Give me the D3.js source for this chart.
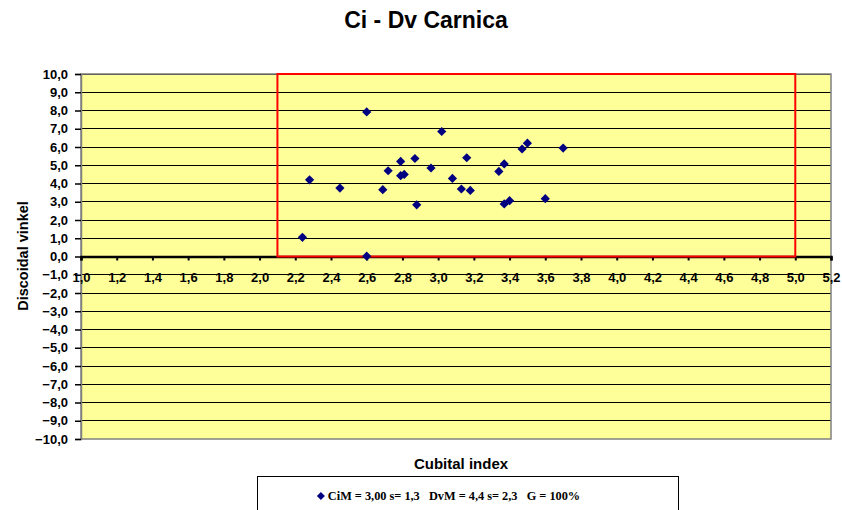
<!DOCTYPE html>
<html><head><meta charset="utf-8">
<script src="https://cdn.jsdelivr.net/npm/d3@7"></script>
<style>body{margin:0;background:#fff}svg{display:block}</style>
</head><body>
<svg id="c" width="842" height="510"></svg>
<script>
const title = "Ci - Dv Carnica";
const xTitle = "Cubital index";
const yTitle = "Discoidal vinkel";
const legendText = "CiM = 3,00 s= 1,3   DvM = 4,4 s= 2,3   G = 100%";
const cubitalIndex = [2.24, 2.28, 2.45, 2.60, 2.60, 2.69, 2.72, 2.79, 2.79, 2.81, 2.87, 2.88, 2.96, 3.02, 3.08, 3.13, 3.16, 3.18, 3.34, 3.37, 3.37, 3.40, 3.47, 3.50, 3.60, 3.70];
const discoidal    = [1.05, 4.20, 3.75, 7.92, 0.02, 3.66, 4.70, 5.21, 4.43, 4.50, 5.37, 2.83, 4.85, 6.85, 4.28, 3.70, 5.41, 3.62, 4.66, 5.07, 2.88, 3.06, 5.89, 6.21, 3.17, 5.94];
const xTicks = [1.0,1.2,1.4,1.6,1.8,2.0,2.2,2.4,2.6,2.8,3.0,3.2,3.4,3.6,3.8,4.0,4.2,4.4,4.6,4.8,5.0,5.2];
const yTicks = [-10,-9,-8,-7,-6,-5,-4,-3,-2,-1,0,1,2,3,4,5,6,7,8,9,10];
const zoneX = [2.1, 5.0];
const zoneY = [0, 10];

const svg = d3.select("#c");
const L = 81, R = 831, T = 74, B = 439;
const x = d3.scaleLinear().domain([1.0, 5.2]).range([L, R]);
const y = d3.scaleLinear().domain([-10, 10]).range([B, T]);
const fmt = v => d3.format(".1f")(v).replace(".", ",");
const SANS = "Liberation Sans, Arial, sans-serif";

// plot area
svg.append("rect").attr("x", L).attr("y", T).attr("width", R - L).attr("height", B - T)
  .attr("fill", "#FFFF99");

// gridlines
svg.append("g").selectAll("line").data(yTicks.filter(v => v !== -10)).join("line")
  .attr("x1", L).attr("x2", R).attr("y1", d => y(d)).attr("y2", d => y(d))
  .attr("stroke", "#000").attr("stroke-width", 1).attr("shape-rendering", "crispEdges");

// plot border
svg.append("rect").attr("x", L).attr("y", T).attr("width", R - L).attr("height", B - T)
  .attr("fill", "none").attr("stroke", "#808080").attr("stroke-width", 1.5);

// y axis
const yAxis = d3.axisLeft(y).tickValues(yTicks).tickFormat(fmt).tickSize(6).tickPadding(7);
const gy = svg.append("g").attr("transform", `translate(${L},0)`).call(yAxis);
gy.select(".domain").attr("stroke", "#808080").attr("stroke-width", 1.5);
gy.selectAll(".tick line").attr("stroke", "#000").attr("stroke-width", 1.5);
gy.selectAll("text").attr("font-family", SANS)
  .attr("font-weight", "bold").attr("font-size", "13px").attr("fill", "#000");

// x axis at y=0
const xAxis = d3.axisBottom(x).tickValues(xTicks).tickFormat(fmt).tickSize(4).tickPadding(12);
const gx = svg.append("g").attr("transform", `translate(0,${y(0)})`).call(xAxis);
gx.select(".domain").attr("stroke", "#000").attr("stroke-width", 2.5);
gx.selectAll(".tick line").attr("stroke", "#000").attr("stroke-width", 2);
gx.selectAll("text").attr("font-family", SANS)
  .attr("font-weight", "bold").attr("font-size", "13px").attr("fill", "#000");

// red zone
svg.append("rect").attr("x", x(zoneX[0])).attr("y", y(zoneY[1]))
  .attr("width", x(zoneX[1]) - x(zoneX[0])).attr("height", y(zoneY[0]) - y(zoneY[1]))
  .attr("fill", "none").attr("stroke", "#FF0000").attr("stroke-width", 2);

// points
const diamond = (s) => `M0,${-s}L${s},0L0,${s}L${-s},0Z`;
svg.append("g").selectAll("path").data(cubitalIndex.map((v, i) => [v, discoidal[i]])).join("path")
  .attr("d", diamond(4.6))
  .attr("transform", d => `translate(${x(d[0])},${y(d[1])})`)
  .attr("fill", "#000080");

// titles
svg.append("text").attr("x", 426).attr("y", 28).attr("text-anchor", "middle")
  .attr("font-family", SANS).attr("font-weight", "bold")
  .attr("font-size", "23px").text(title);
svg.append("text").attr("x", 461).attr("y", 469).attr("text-anchor", "middle")
  .attr("font-family", SANS).attr("font-weight", "bold")
  .attr("font-size", "15px").text(xTitle);
svg.append("text").attr("transform", "translate(28,256) rotate(-90)").attr("text-anchor", "middle")
  .attr("font-family", SANS).attr("font-weight", "bold")
  .attr("font-size", "14.5px").text(yTitle);

// legend
svg.append("rect").attr("x", 257.5).attr("y", 476.5).attr("width", 421).attr("height", 50)
  .attr("fill", "#fff").attr("stroke", "#000").attr("stroke-width", 1);
const lg = svg.append("text").attr("x", 454).attr("y", 500).attr("text-anchor", "middle")
  .attr("font-family", "Liberation Serif, Times New Roman, serif").attr("font-weight", "bold")
  .attr("font-size", "12.3px").attr("xml:space", "preserve").style("white-space", "pre").text(legendText);
const bb = lg.node().getBBox();
svg.append("path").attr("d", diamond(4)).attr("transform", `translate(${bb.x - 7},${496})`).attr("fill", "#000080");
</script>
</body></html>
